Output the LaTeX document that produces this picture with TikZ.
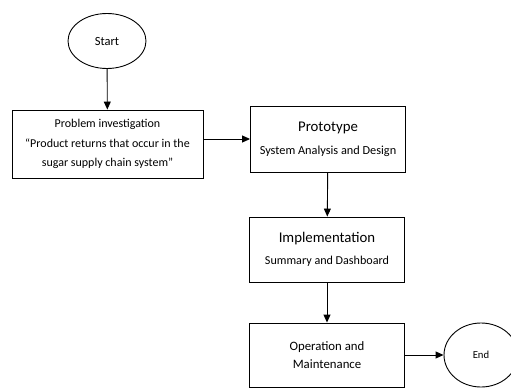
\documentclass[tikz,border=0pt]{standalone}
\usepackage{fontspec}
\setmainfont{Carlito}
\usetikzlibrary{shapes.geometric,arrows.meta}

\tikzset{
	stepbox/.style={draw, rectangle, line width=0.9pt, align=center, font=\fontsize{12}{19.5}\selectfont},
	terminal/.style={draw, ellipse, line width=0.9pt},
	flow/.style={line width=0.9pt, -{Triangle[length=8pt,width=7pt]}}
}
\newcommand{\stagetitle}[1]{{\fontsize{14.8}{16}\selectfont #1}}

\begin{document}
\begin{tikzpicture}[x=1pt, y=-1pt]
	\clip (0,0) rectangle (511,388);

	\node[terminal, minimum width=78pt, minimum height=55pt, font=\fontsize{12.5}{14}\selectfont] (start) at (107,41) {Start};
	\node[stepbox, minimum width=191pt, minimum height=68pt] (problem) at (107.5,144)
		{Problem investigation\\``Product returns that occur in the\\sugar supply chain system''};
	\node[stepbox, minimum width=155pt, minimum height=66pt, font=\fontsize{12.3}{23}\selectfont] (proto) at (328,139)
		{\stagetitle{Prototype}\\System Analysis and Design};
	\node[stepbox, minimum width=155pt, minimum height=65pt, font=\fontsize{12.1}{22}\selectfont] (impl) at (327,249.5)
		{\stagetitle{Implementation}\\Summary and Dashboard};
	\node[stepbox, minimum width=155pt, minimum height=64pt, font=\fontsize{12.8}{18}\selectfont] (oper) at (327,355)
		{Operation and\\Maintenance};
	\node[terminal, minimum width=74pt, minimum height=64pt, font=\fontsize{10.7}{12}\selectfont] (end) at (481,355) {End};

	\draw[flow] (start) -- (problem);
	\draw[flow] (proto.west -| problem.east) -- (proto.west);
	\draw[flow] (proto) -- (impl);
	\draw[flow] (impl) -- (oper);
	\draw[flow] (oper) -- (end);
\end{tikzpicture}
\end{document}
